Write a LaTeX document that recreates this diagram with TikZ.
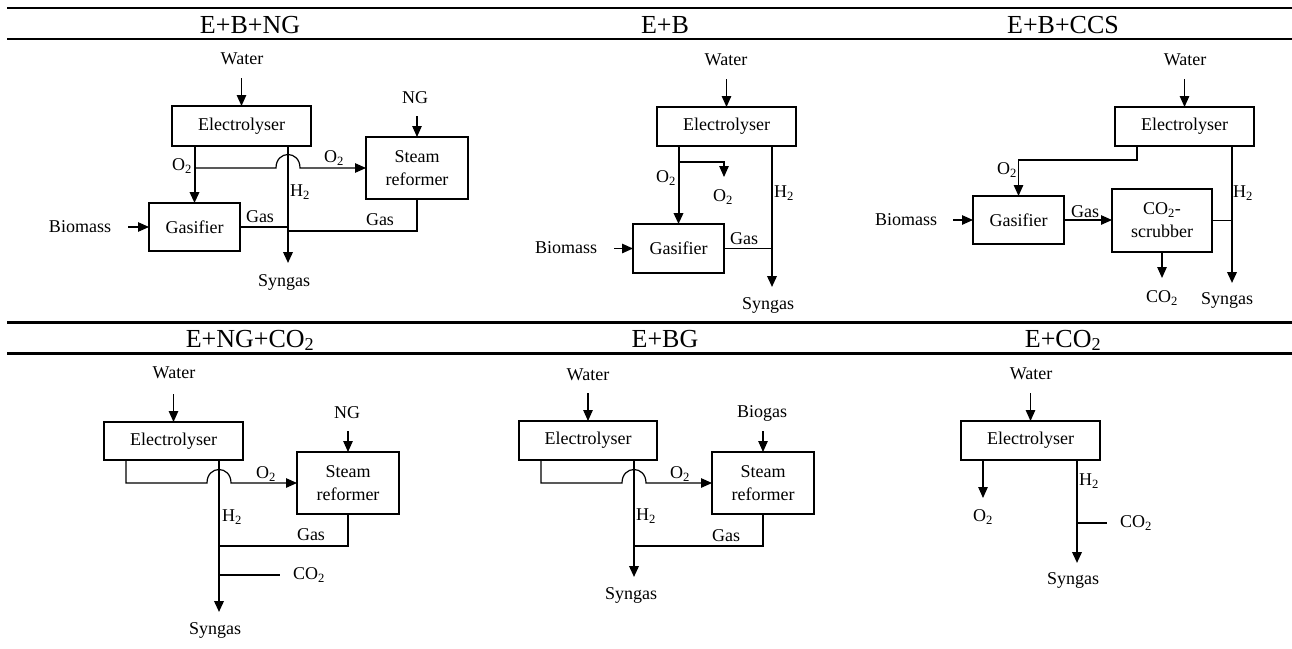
\documentclass[tikz,border=0pt]{standalone}
\usepackage{fontspec}
\setmainfont{Liberation Serif}
\usetikzlibrary{arrows.meta}
\begin{document}
\begin{tikzpicture}[x=1pt,y=-1pt,
  lbl/.style={font=\fontsize{18}{23}\selectfont, inner sep=0pt, align=center},
  ttl/.style={font=\fontsize{26}{30}\selectfont, inner sep=0pt, anchor=base},
  box/.style={draw, line width=1.2pt, inner sep=0pt, outer sep=0pt, align=center, font=\fontsize{18}{23}\selectfont},
  flow/.style={line width=1.2pt},
  thk/.style={line width=2pt},
  tip/.style={-{Triangle[length=11pt,width=9.5pt]}},
  rulel/.style={line width=2.2pt}]
\useasboundingbox (0,0) rectangle (1292,648);
% rules
\draw[rulel] (7,8) -- (1292,8);
\draw[rulel] (7,39) -- (1292,39);
\draw[rulel] (7,322.5) -- (1292,322.5);
\draw[rulel] (7,353.5) -- (1292,353.5);

% ---------- Panel 1: E+B+NG
\node[ttl] (t1) at (250,33) {E+B+NG};
\node[lbl] (w1) at (242,59) {Water};
\node[box, minimum width=139pt, minimum height=40pt] (e1) at (241.5,126) {Electrolyser};
\node[box, minimum width=102pt, minimum height=62pt] (sr1) at (417,168) {Steam\\reformer};
\node[box, minimum width=91pt, minimum height=48pt] (g1) at (194.5,227) {Gasifier};
\node[lbl] (ng1) at (415,98) {NG};
\node[lbl] (bm1) at (80,227) {Biomass};
\node[lbl] (sy1) at (284,282) {Syngas};
\node[lbl] (o2a1) at (182,166) {O\textsubscript{2}};
\node[lbl] (o2b1) at (334,158) {O\textsubscript{2}};
\node[lbl] (h21) at (300,192) {H\textsubscript{2}};
\node[lbl] (ga1) at (260,217) {Gas};
\node[lbl] (gb1) at (380,220) {Gas};
\coordinate (h1s) at (288,146);
\coordinate (h1e) at (288,263);
\coordinate (j1) at (288,231);
\draw[flow,tip] ([yshift=28pt]e1.north) -- (e1.north);
\draw[flow,tip] ([yshift=21pt]sr1.north) -- (sr1.north);
\draw[flow,tip] ([xshift=-21pt]g1.west) -- (g1.west);
\draw[thk,tip] (g1.north |- e1.south) -- (g1.north);
\draw[flow,tip] (g1.north |- sr1.west) -- (276,168) .. controls (276,150) and (300,150) .. (300,168) -- (sr1.west);
\draw[thk,tip] (h1s) -- (h1e);
\draw[flow] (g1.east) -- (g1.east -| h1s);
\draw[flow] (sr1.south) |- (j1);

% ---------- Panel 2: E+B
\node[ttl] (t2) at (665,33) {E+B};
\node[lbl] (w2) at (726,60) {Water};
\node[box, minimum width=139pt, minimum height=39pt] (e2) at (726.5,126.5) {Electrolyser};
\node[box, minimum width=91pt, minimum height=49pt] (g2) at (678.5,248.5) {Gasifier};
\node[lbl] (bm2) at (566,248) {Biomass};
\node[lbl] (sy2) at (768,305) {Syngas};
\node[lbl] (o2a2) at (666,178) {O\textsubscript{2}};
\node[lbl] (o2b2) at (723,197) {O\textsubscript{2}};
\node[lbl] (h22) at (784,193) {H\textsubscript{2}};
\node[lbl] (ga2) at (744,239) {Gas};
\coordinate (b2) at (678.5,162);
\coordinate (o2e2) at (724,177);
\coordinate (h2s) at (772,146);
\coordinate (h2e) at (772,287);
\draw[flow,tip] ([yshift=28pt]e2.north) -- (e2.north);
\draw[flow,tip] ([xshift=-19pt]g2.west) -- (g2.west);
\draw[thk,tip] (g2.north |- e2.south) -- (g2.north);
\draw[flow,tip] (b2) -| (o2e2);
\draw[thk,tip] (h2s) -- (h2e);
\draw[flow] (g2.east) -- (g2.east -| h2s);

% ---------- Panel 3: E+B+CCS
\node[ttl] (t3) at (1063,33) {E+B+CCS};
\node[lbl] (w3) at (1185,60) {Water};
\node[box, minimum width=139pt, minimum height=39pt] (e3) at (1184.5,126.5) {Electrolyser};
\node[box, minimum width=91pt, minimum height=48pt] (g3) at (1018.5,220) {Gasifier};
\node[box, minimum width=100pt, minimum height=63pt] (s3) at (1162,220.5) {CO\textsubscript{2}-\\scrubber};
\node[lbl] (bm3) at (906,220) {Biomass};
\node[lbl] (o2a3) at (1007,170) {O\textsubscript{2}};
\node[lbl] (h23) at (1243,193) {H\textsubscript{2}};
\node[lbl] (ga3) at (1085,212) {Gas};
\node[lbl] (co3) at (1162,298) {CO\textsubscript{2}};
\node[lbl] (sy3) at (1227,300) {Syngas};
\coordinate (o3s) at (1137,146);
\coordinate (h3s) at (1232,146);
\coordinate (h3e) at (1232,283);
\coordinate (c3e) at (1162,278);
\draw[flow,tip] ([yshift=28pt]e3.north) -- (e3.north);
\draw[flow,tip] ([xshift=-20pt]g3.west) -- (g3.west);
\draw[flow,tip] (o3s) -- ++(0,14) -| (g3.north);
\draw[flow,tip] (g3.east) -- (s3.west |- g3.east);
\draw[thk,tip] (h3s) -- (h3e);
\draw[flow] (s3.east) -- (s3.east -| h3s);
\draw[flow,tip] (s3.south) -- (c3e);

% ---------- Panel 4: E+NG+CO2
\node[ttl] (t4) at (250,347) {E+NG+CO\textsubscript{2}};
\node[lbl] (w4) at (174,373) {Water};
\node[box, minimum width=139pt, minimum height=38pt] (e4) at (173.5,441) {Electrolyser};
\node[box, minimum width=102pt, minimum height=62pt] (sr4) at (348,483) {Steam\\reformer};
\node[lbl] (ng4) at (347,413) {NG};
\node[lbl] (o24) at (266,474) {O\textsubscript{2}};
\node[lbl] (h24) at (232,517) {H\textsubscript{2}};
\node[lbl] (ga4) at (311,535) {Gas};
\node[lbl] (co4) at (309,575) {CO\textsubscript{2}};
\node[lbl] (sy4) at (215,630) {Syngas};
\coordinate (o4s) at (126,460);
\coordinate (h4s) at (219,460);
\coordinate (h4e) at (219,612);
\coordinate (j4) at (219,546);
\coordinate (c4j) at (219,575);
\coordinate (c4e) at (280,575);
\draw[flow,tip] ([yshift=28pt]e4.north) -- (e4.north);
\draw[flow,tip] ([yshift=21pt]sr4.north) -- (sr4.north);
\draw[flow,tip] (o4s) |- (207,483) .. controls (207,465) and (231,465) .. (231,483) -- (sr4.west);
\draw[thk,tip] (h4s) -- (h4e);
\draw[flow] (sr4.south) |- (j4);
\draw[flow] (c4j) -- (c4e);

% ---------- Panel 5: E+BG
\node[ttl] (t5) at (665,347) {E+BG};
\node[lbl] (w5) at (588,375) {Water};
\node[box, minimum width=138pt, minimum height=39pt] (e5) at (588,440.5) {Electrolyser};
\node[box, minimum width=102pt, minimum height=62pt] (sr5) at (763,483) {Steam\\reformer};
\node[lbl] (bg5) at (762,413) {Biogas};
\node[lbl] (o25) at (680,474) {O\textsubscript{2}};
\node[lbl] (h25) at (646,516) {H\textsubscript{2}};
\node[lbl] (ga5) at (726,536) {Gas};
\node[lbl] (sy5) at (631,595) {Syngas};
\coordinate (o5s) at (541,460);
\coordinate (h5s) at (634,460);
\coordinate (h5e) at (634,577);
\coordinate (j5) at (634,546);
\draw[flow,tip] ([yshift=28pt]e5.north) -- (e5.north);
\draw[flow,tip] ([yshift=21pt]sr5.north) -- (sr5.north);
\draw[flow,tip] (o5s) |- (622,483) .. controls (622,465) and (646,465) .. (646,483) -- (sr5.west);
\draw[thk,tip] (h5s) -- (h5e);
\draw[flow] (sr5.south) |- (j5);

% ---------- Panel 6: E+CO2
\node[ttl] (t6) at (1063,347) {E+CO\textsubscript{2}};
\node[lbl] (w6) at (1031,374) {Water};
\node[box, minimum width=139pt, minimum height=39pt] (e6) at (1030.5,440.5) {Electrolyser};
\node[lbl] (o26) at (983,517) {O\textsubscript{2}};
\node[lbl] (h26) at (1089,481) {H\textsubscript{2}};
\node[lbl] (co6) at (1136,523) {CO\textsubscript{2}};
\node[lbl] (sy6) at (1073,580) {Syngas};
\coordinate (o6s) at (983,460);
\coordinate (o6e) at (983,498);
\coordinate (h6s) at (1077,460);
\coordinate (h6e) at (1077,563);
\coordinate (c6j) at (1077,523);
\coordinate (c6e) at (1107,523);
\draw[flow,tip] ([yshift=28pt]e6.north) -- (e6.north);
\draw[flow,tip] (o6s) -- (o6e);
\draw[thk,tip] (h6s) -- (h6e);
\draw[flow] (c6j) -- (c6e);
\end{tikzpicture}
\end{document}
